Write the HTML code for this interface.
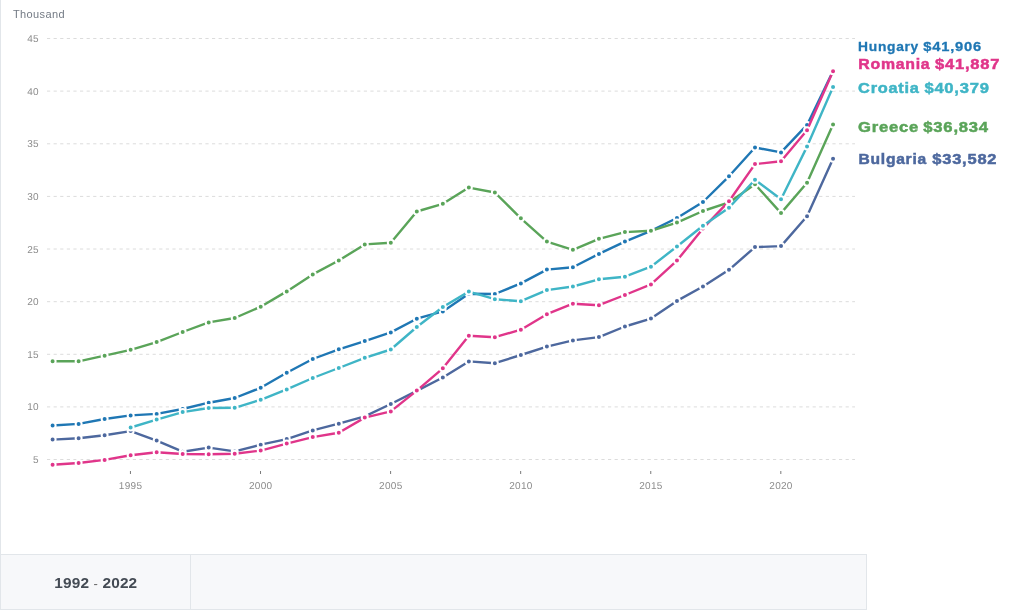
<!DOCTYPE html>
<html><head><meta charset="utf-8"><title>GDP per capita</title>
<style>
html,body{margin:0;padding:0;background:#fff;}
body{width:1013px;height:612px;overflow:hidden;position:relative;font-family:"Liberation Sans",sans-serif;}
#lb{position:absolute;left:0;top:0;width:1px;height:610px;background:#e2e6ea;}
#bar{position:absolute;left:0;top:554px;width:865px;height:54px;background:#f7f8fa;border:1px solid #e2e6ea;box-sizing:content-box;}
#bar .cell{position:absolute;left:0;top:0;width:189px;height:54px;border-right:1px solid #e2e6ea;}
#bar .yr{position:absolute;left:53.3px;top:18.6px;font-size:15.4px;letter-spacing:0.15px;font-weight:bold;color:#444b54;white-space:nowrap;line-height:18px;}
#bar .yr span{font-weight:normal;color:#666;font-size:13px;}
svg{position:absolute;left:0;top:0;}
.ax{font-size:10px;fill:#8c8c8c;letter-spacing:0.3px;text-rendering:geometricPrecision;}
.lab{font-weight:bold;font-size:15px;}
</style></head><body>
<div id="lb"></div>
<svg width="1013" height="612" viewBox="0 0 1013 612" font-family="Liberation Sans, sans-serif">
<text x="13" y="18" font-size="11" fill="#737a84" letter-spacing="0.38">Thousand</text>
<line x1="47" x2="855" y1="38.5" y2="38.5" stroke="#dcdcdc" stroke-width="1" stroke-dasharray="3.2 3.4"/>
<text class="ax" x="38.9" y="42.0" text-anchor="end">45</text>
<line x1="47" x2="855" y1="91.1" y2="91.1" stroke="#dcdcdc" stroke-width="1" stroke-dasharray="3.2 3.4"/>
<text class="ax" x="38.9" y="94.6" text-anchor="end">40</text>
<line x1="47" x2="855" y1="143.8" y2="143.8" stroke="#dcdcdc" stroke-width="1" stroke-dasharray="3.2 3.4"/>
<text class="ax" x="38.9" y="147.3" text-anchor="end">35</text>
<line x1="47" x2="855" y1="196.4" y2="196.4" stroke="#dcdcdc" stroke-width="1" stroke-dasharray="3.2 3.4"/>
<text class="ax" x="38.9" y="199.9" text-anchor="end">30</text>
<line x1="47" x2="855" y1="249.0" y2="249.0" stroke="#dcdcdc" stroke-width="1" stroke-dasharray="3.2 3.4"/>
<text class="ax" x="38.9" y="252.5" text-anchor="end">25</text>
<line x1="47" x2="855" y1="301.7" y2="301.7" stroke="#dcdcdc" stroke-width="1" stroke-dasharray="3.2 3.4"/>
<text class="ax" x="38.9" y="305.2" text-anchor="end">20</text>
<line x1="47" x2="855" y1="354.3" y2="354.3" stroke="#dcdcdc" stroke-width="1" stroke-dasharray="3.2 3.4"/>
<text class="ax" x="38.9" y="357.8" text-anchor="end">15</text>
<line x1="47" x2="855" y1="406.9" y2="406.9" stroke="#dcdcdc" stroke-width="1" stroke-dasharray="3.2 3.4"/>
<text class="ax" x="38.9" y="410.4" text-anchor="end">10</text>
<line x1="47" x2="855" y1="459.5" y2="459.5" stroke="#dcdcdc" stroke-width="1" stroke-dasharray="3.2 3.4"/>
<text class="ax" x="38.9" y="463.0" text-anchor="end">5</text>
<line x1="130.45" x2="130.45" y1="471" y2="474" stroke="#7a7a7a" stroke-width="1"/>
<text class="ax" x="130.6" y="489" text-anchor="middle">1995</text>
<line x1="260.52" x2="260.52" y1="471" y2="474" stroke="#7a7a7a" stroke-width="1"/>
<text class="ax" x="260.7" y="489" text-anchor="middle">2000</text>
<line x1="390.60" x2="390.60" y1="471" y2="474" stroke="#7a7a7a" stroke-width="1"/>
<text class="ax" x="390.8" y="489" text-anchor="middle">2005</text>
<line x1="520.67" x2="520.67" y1="471" y2="474" stroke="#7a7a7a" stroke-width="1"/>
<text class="ax" x="520.9" y="489" text-anchor="middle">2010</text>
<line x1="650.75" x2="650.75" y1="471" y2="474" stroke="#7a7a7a" stroke-width="1"/>
<text class="ax" x="650.9" y="489" text-anchor="middle">2015</text>
<line x1="780.82" x2="780.82" y1="471" y2="474" stroke="#7a7a7a" stroke-width="1"/>
<text class="ax" x="781.0" y="489" text-anchor="middle">2020</text>
<g><polyline fill="none" stroke="#4d689e" stroke-width="2.4" stroke-linejoin="round" stroke-linecap="round" points="52.6,439.6 78.62,438.3 104.63,435.2 130.65,431.1 156.66,440.6 182.67,451.7 208.69,447.6 234.71,451.4 260.72,444.7 286.74,439.1 312.75,430.4 338.77,423.7 364.78,416.3 390.8,404.0 416.81,390.9 442.83,377.5 468.84,361.4 494.86,363.2 520.87,355.0 546.88,346.6 572.9,340.4 598.92,337.1 624.93,326.5 650.95,318.6 676.96,300.9 702.98,286.5 728.99,269.8 755.0,247.1 781.02,246.1 807.04,216.3 833.05,158.8"/>
<circle cx="52.6" cy="439.6" r="3" fill="#4d689e" stroke="#fff" stroke-width="2"/><circle cx="78.62" cy="438.3" r="3" fill="#4d689e" stroke="#fff" stroke-width="2"/><circle cx="104.63" cy="435.2" r="3" fill="#4d689e" stroke="#fff" stroke-width="2"/><circle cx="130.65" cy="431.1" r="3" fill="#4d689e" stroke="#fff" stroke-width="2"/><circle cx="156.66" cy="440.6" r="3" fill="#4d689e" stroke="#fff" stroke-width="2"/><circle cx="182.67" cy="451.7" r="3" fill="#4d689e" stroke="#fff" stroke-width="2"/><circle cx="208.69" cy="447.6" r="3" fill="#4d689e" stroke="#fff" stroke-width="2"/><circle cx="234.71" cy="451.4" r="3" fill="#4d689e" stroke="#fff" stroke-width="2"/><circle cx="260.72" cy="444.7" r="3" fill="#4d689e" stroke="#fff" stroke-width="2"/><circle cx="286.74" cy="439.1" r="3" fill="#4d689e" stroke="#fff" stroke-width="2"/><circle cx="312.75" cy="430.4" r="3" fill="#4d689e" stroke="#fff" stroke-width="2"/><circle cx="338.77" cy="423.7" r="3" fill="#4d689e" stroke="#fff" stroke-width="2"/><circle cx="364.78" cy="416.3" r="3" fill="#4d689e" stroke="#fff" stroke-width="2"/><circle cx="390.8" cy="404.0" r="3" fill="#4d689e" stroke="#fff" stroke-width="2"/><circle cx="416.81" cy="390.9" r="3" fill="#4d689e" stroke="#fff" stroke-width="2"/><circle cx="442.83" cy="377.5" r="3" fill="#4d689e" stroke="#fff" stroke-width="2"/><circle cx="468.84" cy="361.4" r="3" fill="#4d689e" stroke="#fff" stroke-width="2"/><circle cx="494.86" cy="363.2" r="3" fill="#4d689e" stroke="#fff" stroke-width="2"/><circle cx="520.87" cy="355.0" r="3" fill="#4d689e" stroke="#fff" stroke-width="2"/><circle cx="546.88" cy="346.6" r="3" fill="#4d689e" stroke="#fff" stroke-width="2"/><circle cx="572.9" cy="340.4" r="3" fill="#4d689e" stroke="#fff" stroke-width="2"/><circle cx="598.92" cy="337.1" r="3" fill="#4d689e" stroke="#fff" stroke-width="2"/><circle cx="624.93" cy="326.5" r="3" fill="#4d689e" stroke="#fff" stroke-width="2"/><circle cx="650.95" cy="318.6" r="3" fill="#4d689e" stroke="#fff" stroke-width="2"/><circle cx="676.96" cy="300.9" r="3" fill="#4d689e" stroke="#fff" stroke-width="2"/><circle cx="702.98" cy="286.5" r="3" fill="#4d689e" stroke="#fff" stroke-width="2"/><circle cx="728.99" cy="269.8" r="3" fill="#4d689e" stroke="#fff" stroke-width="2"/><circle cx="755.0" cy="247.1" r="3" fill="#4d689e" stroke="#fff" stroke-width="2"/><circle cx="781.02" cy="246.1" r="3" fill="#4d689e" stroke="#fff" stroke-width="2"/><circle cx="807.04" cy="216.3" r="3" fill="#4d689e" stroke="#fff" stroke-width="2"/><circle cx="833.05" cy="158.8" r="3" fill="#4d689e" stroke="#fff" stroke-width="2"/></g>
<g><polyline fill="none" stroke="#1f77b4" stroke-width="2.4" stroke-linejoin="round" stroke-linecap="round" points="52.6,425.5 78.62,423.9 104.63,419.0 130.65,415.4 156.66,413.9 182.67,409.0 208.69,402.7 234.71,398.0 260.72,387.8 286.74,372.8 312.75,359.0 338.77,349.3 364.78,341.1 390.8,332.4 416.81,318.7 442.83,311.4 468.84,293.8 494.86,294.0 520.87,283.4 546.88,269.6 572.9,267.2 598.92,253.9 624.93,241.6 650.95,230.8 676.96,218.0 702.98,202.0 728.99,176.3 755.0,147.5 781.02,152.4 807.04,124.9 833.05,71.1"/>
<circle cx="52.6" cy="425.5" r="3" fill="#1f77b4" stroke="#fff" stroke-width="2"/><circle cx="78.62" cy="423.9" r="3" fill="#1f77b4" stroke="#fff" stroke-width="2"/><circle cx="104.63" cy="419.0" r="3" fill="#1f77b4" stroke="#fff" stroke-width="2"/><circle cx="130.65" cy="415.4" r="3" fill="#1f77b4" stroke="#fff" stroke-width="2"/><circle cx="156.66" cy="413.9" r="3" fill="#1f77b4" stroke="#fff" stroke-width="2"/><circle cx="182.67" cy="409.0" r="3" fill="#1f77b4" stroke="#fff" stroke-width="2"/><circle cx="208.69" cy="402.7" r="3" fill="#1f77b4" stroke="#fff" stroke-width="2"/><circle cx="234.71" cy="398.0" r="3" fill="#1f77b4" stroke="#fff" stroke-width="2"/><circle cx="260.72" cy="387.8" r="3" fill="#1f77b4" stroke="#fff" stroke-width="2"/><circle cx="286.74" cy="372.8" r="3" fill="#1f77b4" stroke="#fff" stroke-width="2"/><circle cx="312.75" cy="359.0" r="3" fill="#1f77b4" stroke="#fff" stroke-width="2"/><circle cx="338.77" cy="349.3" r="3" fill="#1f77b4" stroke="#fff" stroke-width="2"/><circle cx="364.78" cy="341.1" r="3" fill="#1f77b4" stroke="#fff" stroke-width="2"/><circle cx="390.8" cy="332.4" r="3" fill="#1f77b4" stroke="#fff" stroke-width="2"/><circle cx="416.81" cy="318.7" r="3" fill="#1f77b4" stroke="#fff" stroke-width="2"/><circle cx="442.83" cy="311.4" r="3" fill="#1f77b4" stroke="#fff" stroke-width="2"/><circle cx="468.84" cy="293.8" r="3" fill="#1f77b4" stroke="#fff" stroke-width="2"/><circle cx="494.86" cy="294.0" r="3" fill="#1f77b4" stroke="#fff" stroke-width="2"/><circle cx="520.87" cy="283.4" r="3" fill="#1f77b4" stroke="#fff" stroke-width="2"/><circle cx="546.88" cy="269.6" r="3" fill="#1f77b4" stroke="#fff" stroke-width="2"/><circle cx="572.9" cy="267.2" r="3" fill="#1f77b4" stroke="#fff" stroke-width="2"/><circle cx="598.92" cy="253.9" r="3" fill="#1f77b4" stroke="#fff" stroke-width="2"/><circle cx="624.93" cy="241.6" r="3" fill="#1f77b4" stroke="#fff" stroke-width="2"/><circle cx="650.95" cy="230.8" r="3" fill="#1f77b4" stroke="#fff" stroke-width="2"/><circle cx="676.96" cy="218.0" r="3" fill="#1f77b4" stroke="#fff" stroke-width="2"/><circle cx="702.98" cy="202.0" r="3" fill="#1f77b4" stroke="#fff" stroke-width="2"/><circle cx="728.99" cy="176.3" r="3" fill="#1f77b4" stroke="#fff" stroke-width="2"/><circle cx="755.0" cy="147.5" r="3" fill="#1f77b4" stroke="#fff" stroke-width="2"/><circle cx="781.02" cy="152.4" r="3" fill="#1f77b4" stroke="#fff" stroke-width="2"/><circle cx="807.04" cy="124.9" r="3" fill="#1f77b4" stroke="#fff" stroke-width="2"/><circle cx="833.05" cy="71.1" r="3" fill="#1f77b4" stroke="#fff" stroke-width="2"/></g>
<g><polyline fill="none" stroke="#5aa459" stroke-width="2.4" stroke-linejoin="round" stroke-linecap="round" points="52.6,361.3 78.62,361.3 104.63,355.7 130.65,349.8 156.66,342.1 182.67,332.0 208.69,322.4 234.71,318.0 260.72,306.7 286.74,291.4 312.75,274.4 338.77,260.5 364.78,244.4 390.8,242.8 416.81,211.5 442.83,203.8 468.84,187.6 494.86,192.5 520.87,218.3 546.88,241.6 572.9,249.8 598.92,238.8 624.93,232.1 650.95,230.8 676.96,222.6 702.98,211.0 728.99,202.4 755.0,184.2 781.02,213.1 807.04,182.7 833.05,124.4"/>
<circle cx="52.6" cy="361.3" r="3" fill="#5aa459" stroke="#fff" stroke-width="2"/><circle cx="78.62" cy="361.3" r="3" fill="#5aa459" stroke="#fff" stroke-width="2"/><circle cx="104.63" cy="355.7" r="3" fill="#5aa459" stroke="#fff" stroke-width="2"/><circle cx="130.65" cy="349.8" r="3" fill="#5aa459" stroke="#fff" stroke-width="2"/><circle cx="156.66" cy="342.1" r="3" fill="#5aa459" stroke="#fff" stroke-width="2"/><circle cx="182.67" cy="332.0" r="3" fill="#5aa459" stroke="#fff" stroke-width="2"/><circle cx="208.69" cy="322.4" r="3" fill="#5aa459" stroke="#fff" stroke-width="2"/><circle cx="234.71" cy="318.0" r="3" fill="#5aa459" stroke="#fff" stroke-width="2"/><circle cx="260.72" cy="306.7" r="3" fill="#5aa459" stroke="#fff" stroke-width="2"/><circle cx="286.74" cy="291.4" r="3" fill="#5aa459" stroke="#fff" stroke-width="2"/><circle cx="312.75" cy="274.4" r="3" fill="#5aa459" stroke="#fff" stroke-width="2"/><circle cx="338.77" cy="260.5" r="3" fill="#5aa459" stroke="#fff" stroke-width="2"/><circle cx="364.78" cy="244.4" r="3" fill="#5aa459" stroke="#fff" stroke-width="2"/><circle cx="390.8" cy="242.8" r="3" fill="#5aa459" stroke="#fff" stroke-width="2"/><circle cx="416.81" cy="211.5" r="3" fill="#5aa459" stroke="#fff" stroke-width="2"/><circle cx="442.83" cy="203.8" r="3" fill="#5aa459" stroke="#fff" stroke-width="2"/><circle cx="468.84" cy="187.6" r="3" fill="#5aa459" stroke="#fff" stroke-width="2"/><circle cx="494.86" cy="192.5" r="3" fill="#5aa459" stroke="#fff" stroke-width="2"/><circle cx="520.87" cy="218.3" r="3" fill="#5aa459" stroke="#fff" stroke-width="2"/><circle cx="546.88" cy="241.6" r="3" fill="#5aa459" stroke="#fff" stroke-width="2"/><circle cx="572.9" cy="249.8" r="3" fill="#5aa459" stroke="#fff" stroke-width="2"/><circle cx="598.92" cy="238.8" r="3" fill="#5aa459" stroke="#fff" stroke-width="2"/><circle cx="624.93" cy="232.1" r="3" fill="#5aa459" stroke="#fff" stroke-width="2"/><circle cx="650.95" cy="230.8" r="3" fill="#5aa459" stroke="#fff" stroke-width="2"/><circle cx="676.96" cy="222.6" r="3" fill="#5aa459" stroke="#fff" stroke-width="2"/><circle cx="702.98" cy="211.0" r="3" fill="#5aa459" stroke="#fff" stroke-width="2"/><circle cx="728.99" cy="202.4" r="3" fill="#5aa459" stroke="#fff" stroke-width="2"/><circle cx="755.0" cy="184.2" r="3" fill="#5aa459" stroke="#fff" stroke-width="2"/><circle cx="781.02" cy="213.1" r="3" fill="#5aa459" stroke="#fff" stroke-width="2"/><circle cx="807.04" cy="182.7" r="3" fill="#5aa459" stroke="#fff" stroke-width="2"/><circle cx="833.05" cy="124.4" r="3" fill="#5aa459" stroke="#fff" stroke-width="2"/></g>
<g><polyline fill="none" stroke="#e0358a" stroke-width="2.4" stroke-linejoin="round" stroke-linecap="round" points="52.6,464.8 78.62,463.0 104.63,459.9 130.65,455.3 156.66,452.2 182.67,454.0 208.69,454.2 234.71,453.7 260.72,450.6 286.74,443.6 312.75,437.1 338.77,432.7 364.78,417.6 390.8,411.4 416.81,390.6 442.83,368.3 468.84,335.7 494.86,337.2 520.87,329.7 546.88,314.2 572.9,303.7 598.92,305.2 624.93,295.0 650.95,284.4 676.96,260.6 702.98,228.4 728.99,201.2 755.0,164.1 781.02,161.3 807.04,130.3 833.05,71.3"/>
<circle cx="52.6" cy="464.8" r="3" fill="#e0358a" stroke="#fff" stroke-width="2"/><circle cx="78.62" cy="463.0" r="3" fill="#e0358a" stroke="#fff" stroke-width="2"/><circle cx="104.63" cy="459.9" r="3" fill="#e0358a" stroke="#fff" stroke-width="2"/><circle cx="130.65" cy="455.3" r="3" fill="#e0358a" stroke="#fff" stroke-width="2"/><circle cx="156.66" cy="452.2" r="3" fill="#e0358a" stroke="#fff" stroke-width="2"/><circle cx="182.67" cy="454.0" r="3" fill="#e0358a" stroke="#fff" stroke-width="2"/><circle cx="208.69" cy="454.2" r="3" fill="#e0358a" stroke="#fff" stroke-width="2"/><circle cx="234.71" cy="453.7" r="3" fill="#e0358a" stroke="#fff" stroke-width="2"/><circle cx="260.72" cy="450.6" r="3" fill="#e0358a" stroke="#fff" stroke-width="2"/><circle cx="286.74" cy="443.6" r="3" fill="#e0358a" stroke="#fff" stroke-width="2"/><circle cx="312.75" cy="437.1" r="3" fill="#e0358a" stroke="#fff" stroke-width="2"/><circle cx="338.77" cy="432.7" r="3" fill="#e0358a" stroke="#fff" stroke-width="2"/><circle cx="364.78" cy="417.6" r="3" fill="#e0358a" stroke="#fff" stroke-width="2"/><circle cx="390.8" cy="411.4" r="3" fill="#e0358a" stroke="#fff" stroke-width="2"/><circle cx="416.81" cy="390.6" r="3" fill="#e0358a" stroke="#fff" stroke-width="2"/><circle cx="442.83" cy="368.3" r="3" fill="#e0358a" stroke="#fff" stroke-width="2"/><circle cx="468.84" cy="335.7" r="3" fill="#e0358a" stroke="#fff" stroke-width="2"/><circle cx="494.86" cy="337.2" r="3" fill="#e0358a" stroke="#fff" stroke-width="2"/><circle cx="520.87" cy="329.7" r="3" fill="#e0358a" stroke="#fff" stroke-width="2"/><circle cx="546.88" cy="314.2" r="3" fill="#e0358a" stroke="#fff" stroke-width="2"/><circle cx="572.9" cy="303.7" r="3" fill="#e0358a" stroke="#fff" stroke-width="2"/><circle cx="598.92" cy="305.2" r="3" fill="#e0358a" stroke="#fff" stroke-width="2"/><circle cx="624.93" cy="295.0" r="3" fill="#e0358a" stroke="#fff" stroke-width="2"/><circle cx="650.95" cy="284.4" r="3" fill="#e0358a" stroke="#fff" stroke-width="2"/><circle cx="676.96" cy="260.6" r="3" fill="#e0358a" stroke="#fff" stroke-width="2"/><circle cx="702.98" cy="228.4" r="3" fill="#e0358a" stroke="#fff" stroke-width="2"/><circle cx="728.99" cy="201.2" r="3" fill="#e0358a" stroke="#fff" stroke-width="2"/><circle cx="755.0" cy="164.1" r="3" fill="#e0358a" stroke="#fff" stroke-width="2"/><circle cx="781.02" cy="161.3" r="3" fill="#e0358a" stroke="#fff" stroke-width="2"/><circle cx="807.04" cy="130.3" r="3" fill="#e0358a" stroke="#fff" stroke-width="2"/><circle cx="833.05" cy="71.3" r="3" fill="#e0358a" stroke="#fff" stroke-width="2"/></g>
<g><polyline fill="none" stroke="#3fb5c6" stroke-width="2.4" stroke-linejoin="round" stroke-linecap="round" points="130.65,427.5 156.66,419.6 182.67,412.1 208.69,408.0 234.71,407.8 260.72,399.8 286.74,389.4 312.75,378.0 338.77,368.0 364.78,357.8 390.8,349.5 416.81,327.0 442.83,307.0 468.84,291.6 494.86,299.2 520.87,301.2 546.88,290.1 572.9,286.5 598.92,279.3 624.93,276.7 650.95,266.7 676.96,246.5 702.98,225.8 728.99,207.8 755.0,179.8 781.02,199.3 807.04,146.6 833.05,87.1"/>
<circle cx="130.65" cy="427.5" r="3" fill="#3fb5c6" stroke="#fff" stroke-width="2"/><circle cx="156.66" cy="419.6" r="3" fill="#3fb5c6" stroke="#fff" stroke-width="2"/><circle cx="182.67" cy="412.1" r="3" fill="#3fb5c6" stroke="#fff" stroke-width="2"/><circle cx="208.69" cy="408.0" r="3" fill="#3fb5c6" stroke="#fff" stroke-width="2"/><circle cx="234.71" cy="407.8" r="3" fill="#3fb5c6" stroke="#fff" stroke-width="2"/><circle cx="260.72" cy="399.8" r="3" fill="#3fb5c6" stroke="#fff" stroke-width="2"/><circle cx="286.74" cy="389.4" r="3" fill="#3fb5c6" stroke="#fff" stroke-width="2"/><circle cx="312.75" cy="378.0" r="3" fill="#3fb5c6" stroke="#fff" stroke-width="2"/><circle cx="338.77" cy="368.0" r="3" fill="#3fb5c6" stroke="#fff" stroke-width="2"/><circle cx="364.78" cy="357.8" r="3" fill="#3fb5c6" stroke="#fff" stroke-width="2"/><circle cx="390.8" cy="349.5" r="3" fill="#3fb5c6" stroke="#fff" stroke-width="2"/><circle cx="416.81" cy="327.0" r="3" fill="#3fb5c6" stroke="#fff" stroke-width="2"/><circle cx="442.83" cy="307.0" r="3" fill="#3fb5c6" stroke="#fff" stroke-width="2"/><circle cx="468.84" cy="291.6" r="3" fill="#3fb5c6" stroke="#fff" stroke-width="2"/><circle cx="494.86" cy="299.2" r="3" fill="#3fb5c6" stroke="#fff" stroke-width="2"/><circle cx="520.87" cy="301.2" r="3" fill="#3fb5c6" stroke="#fff" stroke-width="2"/><circle cx="546.88" cy="290.1" r="3" fill="#3fb5c6" stroke="#fff" stroke-width="2"/><circle cx="572.9" cy="286.5" r="3" fill="#3fb5c6" stroke="#fff" stroke-width="2"/><circle cx="598.92" cy="279.3" r="3" fill="#3fb5c6" stroke="#fff" stroke-width="2"/><circle cx="624.93" cy="276.7" r="3" fill="#3fb5c6" stroke="#fff" stroke-width="2"/><circle cx="650.95" cy="266.7" r="3" fill="#3fb5c6" stroke="#fff" stroke-width="2"/><circle cx="676.96" cy="246.5" r="3" fill="#3fb5c6" stroke="#fff" stroke-width="2"/><circle cx="702.98" cy="225.8" r="3" fill="#3fb5c6" stroke="#fff" stroke-width="2"/><circle cx="728.99" cy="207.8" r="3" fill="#3fb5c6" stroke="#fff" stroke-width="2"/><circle cx="755.0" cy="179.8" r="3" fill="#3fb5c6" stroke="#fff" stroke-width="2"/><circle cx="781.02" cy="199.3" r="3" fill="#3fb5c6" stroke="#fff" stroke-width="2"/><circle cx="807.04" cy="146.6" r="3" fill="#3fb5c6" stroke="#fff" stroke-width="2"/><circle cx="833.05" cy="87.1" r="3" fill="#3fb5c6" stroke="#fff" stroke-width="2"/></g>
<text id="labH" y="50.6" font-size="13.5" font-weight="bold" fill="#1f77b4" stroke="#1f77b4" stroke-width="0.3" letter-spacing="0.7"><tspan x="858.1" textLength="60.9" lengthAdjust="spacingAndGlyphs">Hungary</tspan> <tspan x="923.3" textLength="58.6" lengthAdjust="spacingAndGlyphs">$41,906</tspan></text>
<text id="labR" y="68.6" font-size="15" font-weight="bold" fill="#e0358a" stroke="#e0358a" stroke-width="0.5" letter-spacing="0.7"><tspan x="858.3" textLength="72.1" lengthAdjust="spacingAndGlyphs">Romania</tspan> <tspan x="935.0" textLength="65.3" lengthAdjust="spacingAndGlyphs">$41,887</tspan></text>
<text id="labC" y="92.9" font-size="15" font-weight="bold" fill="#3fb5c6" stroke="#3fb5c6" stroke-width="0.5" letter-spacing="0.7"><tspan x="858.1" textLength="61.6" lengthAdjust="spacingAndGlyphs">Croatia</tspan> <tspan x="924.4" textLength="65.3" lengthAdjust="spacingAndGlyphs">$40,379</tspan></text>
<text id="labG" y="132.4" font-size="15" font-weight="bold" fill="#5aa459" stroke="#5aa459" stroke-width="0.5" letter-spacing="0.7"><tspan x="858.0" textLength="60.9" lengthAdjust="spacingAndGlyphs">Greece</tspan> <tspan x="923.3" textLength="65.6" lengthAdjust="spacingAndGlyphs">$36,834</tspan></text>
<text id="labB" y="163.6" font-size="15" font-weight="bold" fill="#4d689e" stroke="#4d689e" stroke-width="0.5" letter-spacing="0.7"><tspan x="858.6" textLength="68.3" lengthAdjust="spacingAndGlyphs">Bulgaria</tspan> <tspan x="932.3" textLength="65.0" lengthAdjust="spacingAndGlyphs">$33,582</tspan></text>
</svg>
<div id="bar"><div class="cell"></div><div class="yr">1992 <span>-</span> 2022</div></div>
</body></html>
